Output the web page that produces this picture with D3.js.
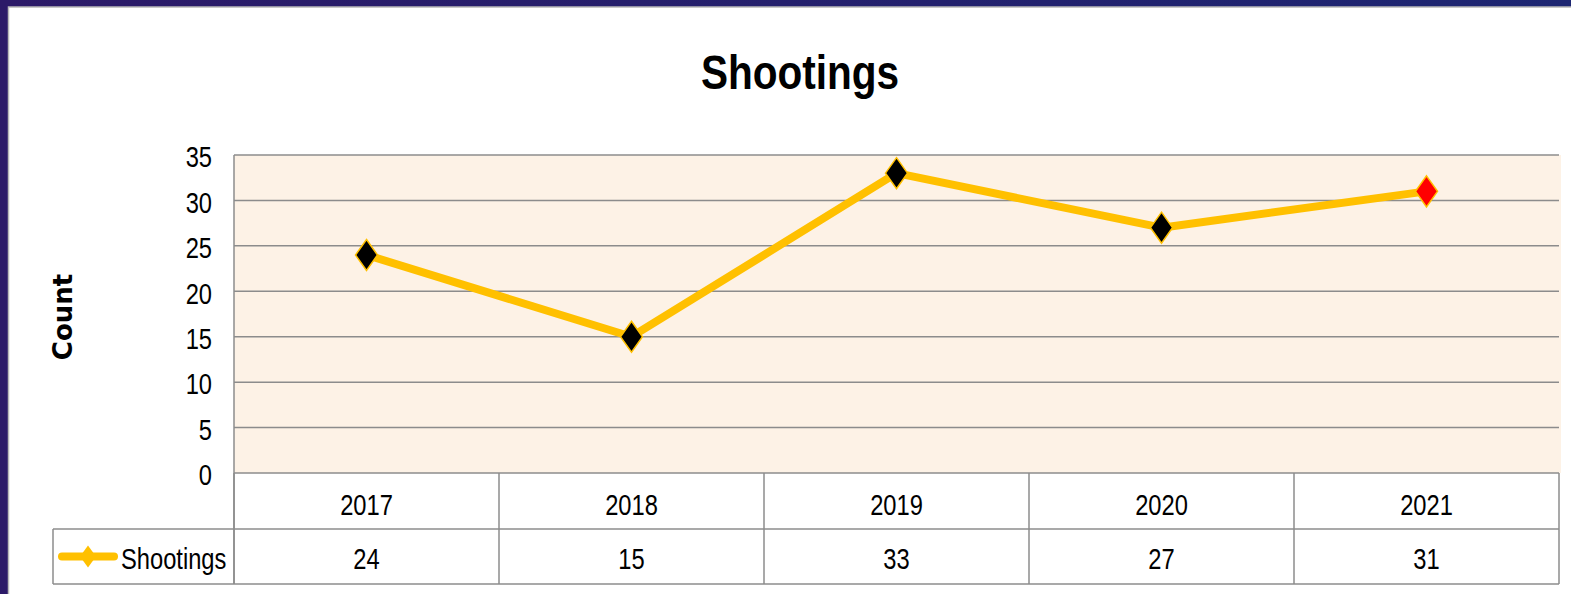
<!DOCTYPE html>
<html><head><meta charset="utf-8">
<script src="https://cdn.jsdelivr.net/npm/d3@7"></script>
<style>
html,body{margin:0;padding:0;background:#221e6c;}
svg{display:block;}
.nar{font-family:"Liberation Sans","Arial",sans-serif;}
</style></head>
<body>
<svg id="c" width="1571" height="594"></svg>
<script>
const categories = ["2017","2018","2019","2020","2021"];
const shootings = [24, 15, 33, 27, 31];
const yTicks = [0,5,10,15,20,25,30,35];
const seriesName = "Shootings";
const titleText = "Shootings";
const yAxisTitle = "Count";

(function(){
const W = 1571, H = 594;
const SX = 0.79; // horizontal condensing to mimic a narrow face
const svg = d3.select("#c");
const defs = svg.append("defs");
const g1 = defs.append("linearGradient").attr("id","bg").attr("x1","0").attr("y1","0").attr("x2","1").attr("y2","0");
g1.append("stop").attr("offset","0").attr("stop-color","#2c1a68");
g1.append("stop").attr("offset","1").attr("stop-color","#1d2672");
svg.append("rect").attr("width",W).attr("height",H).attr("fill","url(#bg)");
// white panel
svg.append("rect").attr("x",8.5).attr("y",7).attr("width",W).attr("height",H).attr("fill","#fff").attr("stroke","#b8b8b8").attr("stroke-width",1.5);

const pLeft = 234, pRight = 1559, pTop = 155, pBottom = 473;
const row1 = 529, row2 = 584, legLeft = 53;
const x = d3.scaleBand().domain(categories).range([pLeft,pRight]);
const y = d3.scaleLinear().domain([0,35]).range([pBottom,pTop]);

function narrow(sel, px, py){
  sel.attr("class","nar").attr("x",0).attr("y",0)
     .attr("transform",(d,i)=>`translate(${px(d,i)},${py(d,i)}) scale(${SX},1)`);
  return sel;
}

// plot background
svg.append("rect").attr("x",pLeft).attr("y",pTop).attr("width",pRight-pLeft+2).attr("height",pBottom-pTop).attr("fill","#fdf2e6");

// gridlines
svg.append("g").selectAll("line").data(yTicks).join("line")
  .attr("x1",pLeft).attr("x2",pRight).attr("y1",d=>y(d)).attr("y2",d=>y(d))
  .attr("stroke","#8c8c8c").attr("stroke-width",1.5);
// left axis line
svg.append("line").attr("x1",pLeft).attr("x2",pLeft).attr("y1",pTop).attr("y2",row2).attr("stroke","#8c8c8c").attr("stroke-width",1.5);

// y tick labels (d3 axis, then condensed)
const yAxis = d3.axisLeft(y).tickValues(yTicks).tickSize(0).tickPadding(22);
const ya = svg.append("g").attr("transform",`translate(${pLeft},0)`).call(yAxis);
ya.select(".domain").remove();
ya.attr("font-family",null).attr("font-size",null);
ya.selectAll("text").attr("class","nar").attr("font-size",30).attr("fill","#000")
  .attr("x",0).attr("dy","0.36em").attr("transform",`translate(-22,1) scale(${SX},1)`);

// table
const tb = svg.append("g").attr("stroke","#8c8c8c").attr("stroke-width",1.5);
const bounds = categories.map(c=>x(c)).concat([pRight]);
tb.selectAll("line.v").data(bounds).join("line").attr("class","v")
  .attr("x1",d=>d).attr("x2",d=>d).attr("y1",pBottom).attr("y2",row2);
tb.append("line").attr("x1",legLeft).attr("x2",legLeft).attr("y1",row1).attr("y2",row2);
tb.append("line").attr("x1",legLeft).attr("x2",pRight).attr("y1",row1).attr("y2",row1);
tb.append("line").attr("x1",legLeft).attr("x2",pRight).attr("y1",row2).attr("y2",row2);

// category labels
narrow(svg.append("g").selectAll("text").data(categories).join("text"),
  d=>x(d)+x.bandwidth()/2, ()=>(pBottom+row1)/2+3)
  .attr("dy","0.36em").attr("text-anchor","middle").attr("font-size",30).text(d=>d);
// data values
narrow(svg.append("g").selectAll("text").data(shootings).join("text"),
  (d,i)=>x(categories[i])+x.bandwidth()/2, ()=>(row1+row2)/2+2)
  .attr("dy","0.36em").attr("text-anchor","middle").attr("font-size",30).text(d=>d);

// line
const line = d3.line().x((d,i)=>x(categories[i])+x.bandwidth()/2).y(d=>y(d));
svg.append("path").datum(shootings).attr("d",line).attr("fill","none")
  .attr("stroke","#ffc000").attr("stroke-width",8).attr("stroke-linejoin","round");

// markers
const diamond = (w,h)=>`M0,${-h/2}L${w/2},0L0,${h/2}L${-w/2},0Z`;
svg.append("g").selectAll("path").data(shootings).join("path")
  .attr("transform",(d,i)=>`translate(${x(categories[i])+x.bandwidth()/2},${y(d)})`)
  .attr("d",diamond(22,31))
  .attr("fill",(d,i)=>i===shootings.length-1?"#ff0000":"#000")
  .attr("stroke","#ffc000").attr("stroke-width",1.5);

// legend key
const ly = (row1+row2)/2;
svg.append("line").attr("x1",62).attr("x2",114).attr("y1",ly).attr("y2",ly)
  .attr("stroke","#ffc000").attr("stroke-width",8).attr("stroke-linecap","round");
svg.append("path").attr("transform",`translate(88,${ly})`).attr("d",diamond(16,22)).attr("fill","#ffc000");
narrow(svg.append("text").datum(seriesName), ()=>121, ()=>ly+2)
  .attr("dy","0.36em").attr("font-size",30).text(seriesName);

// title
narrow(svg.append("text").datum(titleText), ()=>800, ()=>89)
  .attr("transform",`translate(800,89) scale(0.845,1)`)
  .attr("text-anchor","middle").attr("font-size",48).attr("font-weight","bold").text(titleText);
// y axis title
svg.append("text").attr("transform","translate(72,317) rotate(-90)").attr("text-anchor","middle")
  .attr("font-family","DejaVu Sans, Verdana, sans-serif").attr("font-weight","bold").attr("font-size",26).text(yAxisTitle);
})();
</script>
</body></html>
